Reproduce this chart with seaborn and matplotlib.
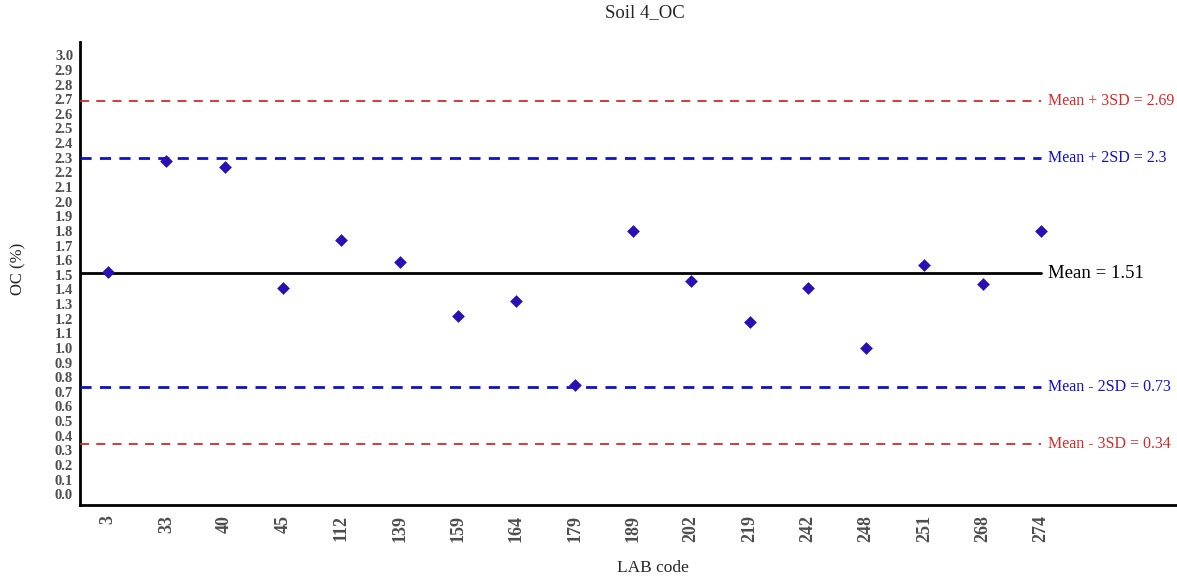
import numpy as np
import pandas as pd
import matplotlib
matplotlib.use("Agg")
import matplotlib.pyplot as plt
import seaborn as sns

# lab codes and OC values
lab_codes = ["3", "33", "40", "45", "112", "139", "159", "164", "179",
             "189", "202", "219", "242", "248", "251", "268", "274"]
oc_values = [1.52, 2.28, 2.24, 1.41, 1.74, 1.59, 1.22, 1.32, 0.745,
             1.80, 1.46, 1.18, 1.41, 1.00, 1.57, 1.44, 1.80]

mean_val = 1.51
limits = [
    # (value, label, color, width, fontsize, linestyle)
    (2.69, "Mean + 3SD = 2.69", "#d42a2a", 1.3, 11.5, (0, (5, 4))),
    (2.3, "Mean + 2SD = 2.3", "#1010c8", 2.0, 11.5, (0, (4, 3))),
    (mean_val, "Mean = 1.51", "black", 2.0, 13.5, "-"),
    (0.73, "Mean - 2SD = 0.73", "#1010c8", 2.0, 11.5, (0, (4, 3))),
    (0.34, "Mean - 3SD = 0.34", "#d42a2a", 1.3, 11.5, (0, (5, 4))),
]

df = pd.DataFrame({"lab": lab_codes, "oc": oc_values})

sns.set_style("white")
plt.rcParams["font.family"] = ["Liberation Serif", "DejaVu Serif"]

fig = plt.figure(figsize=(11.77, 5.78), dpi=100)
ax = fig.add_axes([0.068, 0.126, 0.932, 0.801])

sns.stripplot(data=df, x="lab", y="oc", order=lab_codes, jitter=False,
              marker="D", color="#2a0fb5", size=6.5, linewidth=0, ax=ax, zorder=5)

last = len(lab_codes) - 1
x0 = -0.48
for val, label, col, lw, fs, ls in limits:
    ax.plot([x0, last], [val, val], color=col, lw=lw, linestyle=ls, zorder=3)
    ax.text(last + 0.12, val, label, color=col, fontsize=fs, va="center", ha="left")

ax.set_xlim(x0, 18.33)
ax.set_ylim(-0.075, 3.09)
ax.set_yticks(np.round(np.arange(0, 3.01, 0.1), 1))
ax.set_yticklabels([f"{v:.1f}" for v in np.arange(0, 3.01, 0.1)])

ax.tick_params(axis="y", labelsize=10.5, colors="#4d4d4d", length=3, width=0.8, pad=2)
ax.tick_params(axis="x", labelsize=13, colors="#4d4d4d", length=3, width=0.8,
               pad=4, labelrotation=90)
for lbl in ax.get_xticklabels() + ax.get_yticklabels():
    lbl.set_fontweight("bold")

for side in ["top", "right"]:
    ax.spines[side].set_visible(False)
for side in ["left", "bottom"]:
    ax.spines[side].set_linewidth(2)
    ax.spines[side].set_color("black")

ax.set_xlabel("")
ax.set_ylabel("")
fig.text(0.548, 0.978, "Soil 4_OC", ha="center", va="center", fontsize=13.5)
fig.text(0.555, 0.018, "LAB code", ha="center", va="center", fontsize=12.5)
fig.text(0.016, 0.535, "OC (%)", ha="center", va="center", fontsize=12, rotation=90)

fig.savefig("out.png", dpi=100)
